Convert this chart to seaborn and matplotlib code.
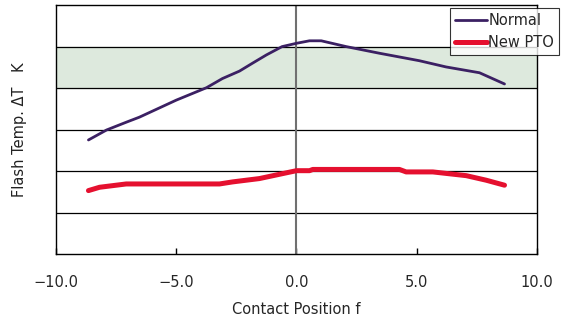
import matplotlib
matplotlib.use('Agg')
import matplotlib.pyplot as plt
import numpy as np
import pandas as pd
import seaborn as sns

# contact position f
normal_x = [-8.65, -7.9, -7.07, -6.53, -5.0, -3.74, -3.08, -2.37, -1.83, -1.25, -0.6, 0.0,
            0.54, 1.03, 2.07, 3.45, 4.56, 5.11, 6.22, 7.61, 8.65]
normal_y = [2.75, 2.99, 3.18, 3.30, 3.71, 4.01, 4.23, 4.41, 4.60, 4.80, 5.0, 5.08,
            5.14, 5.14, 5.0, 4.84, 4.72, 4.66, 4.51, 4.37, 4.10]

pto_x = [-8.65, -8.19, -7.08, -3.2, -2.65, -1.54, -0.57, 0.0, 0.54, 0.68, 4.28, 4.56,
         5.67, 7.06, 7.89, 8.65]
pto_y = [1.53, 1.61, 1.69, 1.69, 1.74, 1.82, 1.94, 2.01, 2.01, 2.04, 2.04, 1.98,
         1.98, 1.89, 1.78, 1.66]

xticks = [-10.0, -5.0, 0.0, 5.0, 10.0]
xticklabels = ['\u221210.0', '\u22125.0', '0.0', '5.0', '10.0']
band = (4, 5)

sns.set_style('white')
plt.rcParams['font.family'] = ['DejaVu Sans', 'Noto Sans CJK JP']

df = pd.concat([
    pd.DataFrame({'f': normal_x, 'dT': normal_y, 'series': 'Normal'}),
    pd.DataFrame({'f': pto_x, 'dT': pto_y, 'series': 'New PTO'}),
])

fig = plt.figure(figsize=(5.65, 3.2), dpi=100)
ax = fig.add_axes([0.0991, 0.206, 0.8513, 0.778])

ax.axhspan(band[0], band[1], color='#dde9dd', zorder=0)
for yv in range(1, 6):
    ax.axhline(yv, color='black', lw=0.9, zorder=1)
ax.axvline(0, color='#707070', lw=1.5, zorder=1)

sns.lineplot(data=df, x='f', y='dT', hue='series', size='series',
             palette={'Normal': '#3b2063', 'New PTO': '#e5102f'},
             sizes={'Normal': 2.0, 'New PTO': 3.6},
             sort=False, estimator=None, ax=ax, zorder=3)

ax.set_xlim(-10, 10)
ax.set_ylim(0, 6)
ax.set_xticks(xticks)
ax.set_xticklabels(xticklabels, fontsize=10.5)
ax.set_yticks([])
ax.tick_params(axis='x', direction='in', length=4, width=1, color='black', pad=15, bottom=True)
for s in ax.spines.values():
    s.set_color('black')
    s.set_linewidth(1.0)

ax.set_xlabel('Contact Position f', fontsize=10.5, labelpad=9)
ax.set_ylabel('Flash Temp. \u0394T\u3000K', fontsize=10.5, labelpad=21, color='#222222')

leg = ax.legend(loc='upper right', bbox_to_anchor=(0.99, 0.975), bbox_transform=fig.transFigure,
                frameon=True, fancybox=False, fontsize=10.5, handlelength=2.2,
                handletextpad=0.1, borderpad=0.35, labelspacing=0.45, borderaxespad=0)
leg.get_frame().set_edgecolor('black')
leg.get_frame().set_linewidth(0.8)
leg.set_zorder(5)

fig.savefig('out.png', dpi=100)
